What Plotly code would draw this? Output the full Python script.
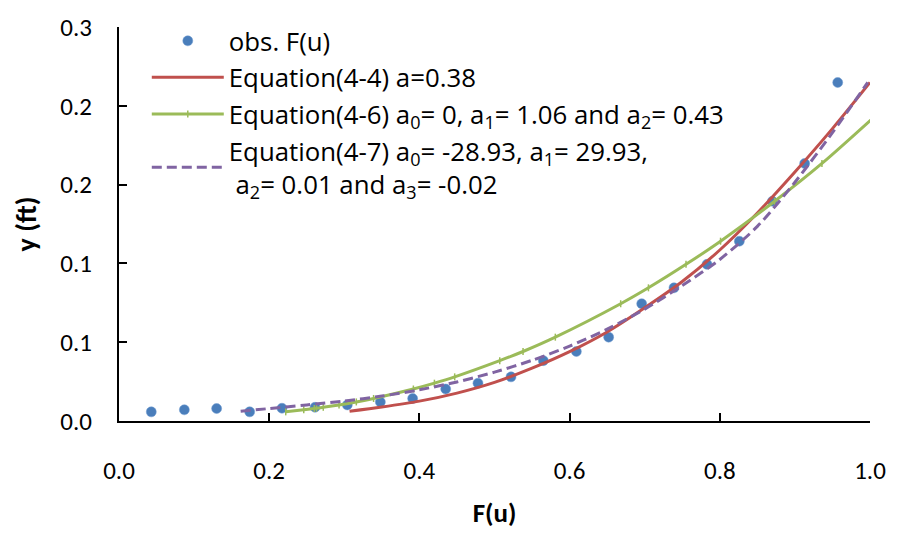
import plotly.graph_objects as go

# Observed plotting positions and depths
F_obs = [0.043, 0.087, 0.130, 0.174, 0.217, 0.261, 0.304, 0.348, 0.391, 0.435, 0.478,
         0.522, 0.565, 0.609, 0.652, 0.696, 0.739, 0.783, 0.826, 0.870, 0.913, 0.957]
y_obs = [0.0058, 0.0071, 0.0079, 0.0058, 0.0081, 0.0087, 0.0102, 0.0121, 0.0143, 0.0203, 0.0240,
         0.0280, 0.0383, 0.0441, 0.0532, 0.0744, 0.0845, 0.0994, 0.1141, 0.1394, 0.1634, 0.2148]

# Equation(4-4) curve
F_eq44 = [0.307, 0.35, 0.40, 0.45, 0.50, 0.55, 0.60, 0.65, 0.70, 0.75, 0.80, 0.85, 0.90, 0.95, 1.00]
y_eq44 = [0.0062, 0.0089, 0.0126, 0.0177, 0.0245, 0.0335, 0.0440, 0.0565, 0.0718, 0.0885,
          0.1085, 0.1320, 0.1580, 0.1855, 0.2148]

# Equation(4-6) curve (points at the observed depth levels)
y_eq46 = [0.0058, 0.0071, 0.0079, 0.0081, 0.0087, 0.0102, 0.0121, 0.0143, 0.0203, 0.0240, 0.0280,
          0.0383, 0.0441, 0.0532, 0.0744, 0.0845, 0.0994, 0.1141, 0.1394, 0.1634, 0.2148]
F_eq46 = [0.222, 0.246, 0.260, 0.263, 0.272, 0.293, 0.316, 0.339, 0.392, 0.420, 0.447,
          0.507, 0.538, 0.581, 0.668, 0.705, 0.755, 0.801, 0.873, 0.936, 1.056]

# Equation(4-7) curve
F_eq47 = [0.162, 0.20, 0.25, 0.30, 0.35, 0.40, 0.45, 0.50, 0.55, 0.60, 0.65, 0.70, 0.75,
          0.80, 0.85, 0.90, 0.95, 0.997]
y_eq47 = [0.0062, 0.0079, 0.0102, 0.0127, 0.0158, 0.0198, 0.0248, 0.0310, 0.0385, 0.0475,
          0.0583, 0.0710, 0.0860, 0.1025, 0.1235, 0.1515, 0.1830, 0.2148]

x_ticks = [0.0, 0.2, 0.4, 0.6, 0.8, 1.0]
x_ticktext = ["0.0", "0.2", "0.4", "0.6", "0.8", "1.0"]
y_ticks = [0.0, 0.05, 0.10, 0.15, 0.20, 0.25]
y_ticktext = ["0.0", "0.1", "0.1", "0.2", "0.2", "0.3"]

names = [
    "obs. F(u)",
    "Equation(4-4) a=0.38",
    "Equation(4-6) a<sub>0</sub>= 0, a<sub>1</sub>= 1.06 and a<sub>2</sub>= 0.43",
    "Equation(4-7) a<sub>0</sub>= -28.93, a<sub>1</sub>= 29.93,<br>\u00a0a<sub>2</sub>= 0.01 and a<sub>3</sub>= -0.02",
]

FONT = "Carlito, Calibri, Lato, sans-serif"
LEGEND_FONT = "Open Sans, Lato, sans-serif"

fig = go.Figure()
fig.add_trace(go.Scatter(x=F_obs, y=y_obs, mode="markers", name=names[0],
                         marker=dict(color="#4A7EBB", size=10,
                                     line=dict(color="#6F9BD1", width=0.5))))
fig.add_trace(go.Scatter(x=F_eq44, y=y_eq44, mode="lines", name=names[1],
                         line=dict(color="#C0504D", width=3, shape="spline", smoothing=0.8)))
fig.add_trace(go.Scatter(x=F_eq46, y=y_eq46, mode="lines+markers", name=names[2],
                         line=dict(color="#9BBB59", width=3, shape="spline", smoothing=0.8),
                         marker=dict(symbol="line-ns", size=5,
                                     line=dict(color="#9BBB59", width=1.5))))
fig.add_trace(go.Scatter(x=F_eq47, y=y_eq47, mode="lines", name=names[3],
                         line=dict(color="#8064A2", width=3, dash="10px,5px",
                                   shape="spline", smoothing=0.8)))

axis_common = dict(showline=True, linecolor="black", linewidth=2, showgrid=False,
                   zeroline=False, ticks="inside", ticklen=8, tickwidth=1.5,
                   tickcolor="black", tickfont=dict(family=FONT, size=25, color="black"))

fig.update_xaxes(range=[0, 1], tickvals=x_ticks, ticktext=x_ticktext,
                 ticklabelstandoff=26,
                 title=dict(text="<b>F(u)</b>", font=dict(family=FONT, size=27, color="black"),
                            standoff=18),
                 **axis_common)
fig.update_yaxes(range=[0, 0.25], tickvals=y_ticks, ticktext=y_ticktext,
                 ticklabelstandoff=20,
                 title=dict(text="<b>y (ft)</b>", font=dict(family=FONT, size=28, color="black"),
                            standoff=16),
                 **axis_common)

fig.update_layout(
    width=898, height=535, autosize=False,
    margin=dict(l=119, r=22, t=19, b=113),
    paper_bgcolor="white", plot_bgcolor="white",
    font=dict(family=FONT, color="black"),
    legend=dict(x=0.037, y=1.024, xanchor="left", yanchor="top",
                bgcolor="rgba(0,0,0,0)", font=dict(family=LEGEND_FONT, size=25.8, color="black"),
                itemwidth=72, tracegroupgap=0, valign="middle"),
)

fig.write_html("out.html")
